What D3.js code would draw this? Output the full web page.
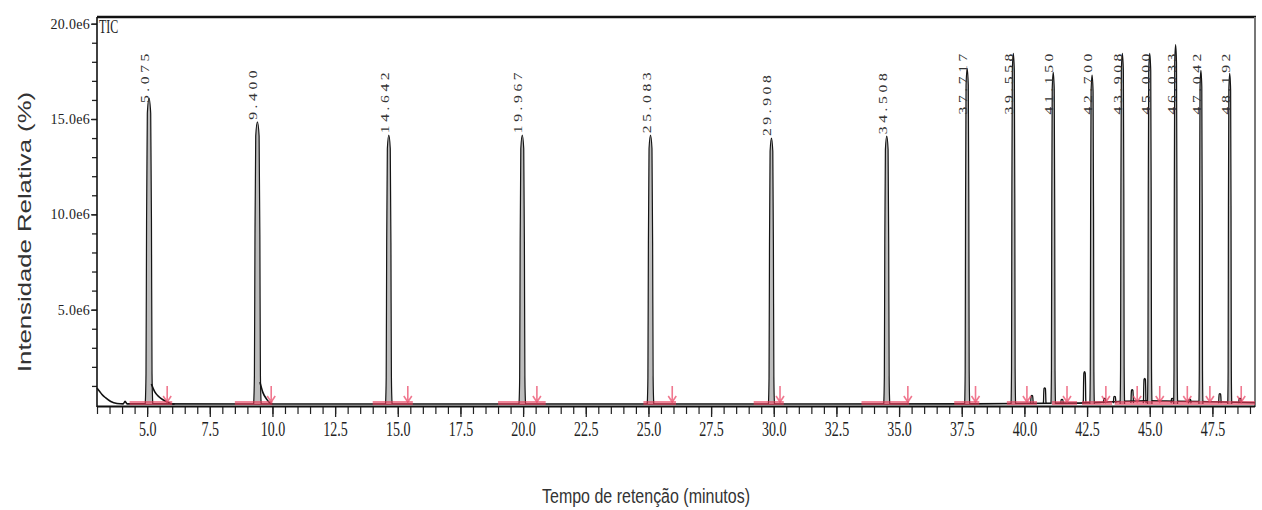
<!DOCTYPE html>
<html>
<head>
<meta charset="utf-8">
<script src="https://cdn.jsdelivr.net/npm/d3@7"></script>
<style>
  html, body { margin: 0; padding: 0; background: #fff; }
  svg { display: block; }
</style>
</head>
<body>
<svg id="chart" width="1262" height="510"></svg>
<script>
// Labelled peaks: retention time (min), label, apex intensity (x1e6) and half-width (min)
const peakTimes = [5.075, 9.400, 14.642, 19.967, 25.083, 29.908, 34.508, 37.717,
                   39.558, 41.150, 42.700, 43.908, 45.000, 46.033, 47.042, 48.192];
const peakLabels = ["5.075", "9.400", "14.642", "19.967", "25.083", "29.908", "34.508", "37.717",
                    "39.558", "41.150", "42.700", "43.908", "45.000", "46.033", "47.042", "48.192"];
const peakHeights = [16.1, 14.85, 14.15, 14.15, 14.15, 14.0, 14.1, 17.65,
                     18.45, 17.45, 17.3, 18.45, 18.45, 18.9, 17.55, 17.4];
const peakHalfWidths = [0.15, 0.15, 0.13, 0.13, 0.13, 0.12, 0.12, 0.1,
                        0.09, 0.09, 0.09, 0.09, 0.09, 0.08, 0.08, 0.08];

// Shape of one peak: offset in half-widths, fraction of apex height
const peakProfile = [[-1, 0], [-0.8, 0.1], [-0.65, 0.6], [-0.45, 0.95], [0, 1],
                     [0.45, 0.95], [0.65, 0.6], [0.8, 0.1], [1, 0]];

// Tailing after the first two peaks (min, x1e6)
const tailPeak1 = [[5.17, 1.1], [5.3, 0.7], [5.48, 0.42], [5.65, 0.26], [5.8, 0.16], [5.95, 0.07], [6.1, 0.05]];
const tailPeak2 = [[9.5, 1.2], [9.62, 0.65], [9.78, 0.28], [9.9, 0.1], [10.0, 0.05]];

// Baseline trace incl. solvent front (min, x1e6)
const baselineTrace = [[3.0, 0.89], [3.1, 0.72], [3.2, 0.55], [3.35, 0.37], [3.55, 0.18], [3.8, 0.08],
                       [4.05, 0.06], [4.12, 0.2], [4.2, 0.06], [10, 0.05], [20, 0.05], [30, 0.05],
                       [38, 0.06], [42, 0.1], [43, 0.14], [44, 0.2], [45, 0.22], [46, 0.2],
                       [47, 0.18], [48, 0.16], [49.2, 0.12]];

// Small unlabelled peaks (min, x1e6)
const minorTimes = [40.3, 40.81, 41.5, 42.4, 43.2, 43.6, 44.3, 44.8, 45.9, 46.6, 47.8, 48.6];
const minorHeights = [0.5, 0.9, 0.3, 1.75, 0.35, 0.45, 0.8, 1.4, 0.35, 0.3, 0.6, 0.35];

// Integration: baseline segments and end markers (min)
const integrationSegments = [[4.3, 6.0], [8.5, 10.0], [14.0, 15.6], [19.0, 20.9], [24.8, 26.1],
                             [29.2, 30.4], [33.5, 35.4], [37.2, 38.2], [39.3, 40.5], [41.1, 42.1],
                             [42.3, 43.5], [43.6, 49.2]];
const integrationEnds = [5.8, 9.95, 15.4, 20.55, 25.95, 30.25, 35.35, 38.05,
                         40.1, 41.7, 43.25, 44.5, 45.4, 46.5, 47.4, 48.65];

// Axis tick labels
const xTickLabels = ["5.0", "7.5", "10.0", "12.5", "15.0", "17.5", "20.0", "22.5", "25.0", "27.5",
                     "30.0", "32.5", "35.0", "37.5", "40.0", "42.5", "45.0", "47.5"];
const yTickLabels = ["5.0e6", "10.0e6", "15.0e6", "20.0e6"];

(function draw() {
  const svg = d3.select("#chart");
  const pl = 97, pr = 1255, pt = 17, pb = 405;

  const x = d3.scaleLinear().domain([3, 49.2]).range([pl, pr]);
  const y = d3.scaleLinear().domain([0, 20.35]).range([pb, pt]);

  const serif = "'Liberation Serif', 'Times New Roman', serif";
  const sans = "'Liberation Sans', Arial, sans-serif";

  // ---- axes ----
  const xMinor = d3.range(3, 49.01, 0.5);
  const xMajor = xTickLabels.map(Number);

  svg.append("g")
    .attr("transform", `translate(0,${pb + 1})`)
    .call(d3.axisBottom(x).tickValues(xMinor).tickSize(8).tickFormat(""))
    .call(g => g.select(".domain").remove())
    .call(g => g.selectAll("line").attr("stroke", "#222").attr("stroke-width", 1.2));

  svg.append("g")
    .attr("transform", `translate(0,${pb + 1})`)
    .call(d3.axisBottom(x).tickValues(xMajor).tickSize(11).tickFormat((d, i) => xTickLabels[i]))
    .call(g => g.select(".domain").remove())
    .call(g => g.selectAll("line").attr("stroke", "#222").attr("stroke-width", 1.3))
    .call(g => g.selectAll("text")
      .attr("y", 0).attr("dy", null)
      .attr("transform", "translate(0,30) scale(1,1.55)")
      .attr("font-family", serif).attr("font-size", 14).attr("fill", "#222"));

  const yMinor = d3.range(1, 20.5, 1);
  svg.append("g")
    .attr("transform", `translate(${pl},0)`)
    .call(d3.axisLeft(y).tickValues(yMinor).tickSize(5).tickFormat(""))
    .call(g => g.select(".domain").remove())
    .call(g => g.selectAll("line").attr("stroke", "#222").attr("stroke-width", 1.3));

  svg.append("g")
    .attr("transform", `translate(${pl},0)`)
    .call(d3.axisLeft(y).tickValues([5, 10, 15, 20]).tickSize(6).tickPadding(1)
      .tickFormat((d, i) => yTickLabels[i]))
    .call(g => g.select(".domain").remove())
    .call(g => g.selectAll("line").attr("stroke", "#222").attr("stroke-width", 1.3))
    .call(g => g.selectAll("text")
      .attr("font-family", serif).attr("font-size", 14).attr("fill", "#222")
      .attr("letter-spacing", 0.3));

  // frame
  svg.append("line").attr("x1", pl).attr("x2", pl).attr("y1", pt).attr("y2", pb + 2)
    .attr("stroke", "#111").attr("stroke-width", 1.6);
  svg.append("line").attr("x1", pl).attr("x2", pr + 1).attr("y1", pt).attr("y2", pt)
    .attr("stroke", "#111").attr("stroke-width", 2.6);
  svg.append("line").attr("x1", pr).attr("x2", pr).attr("y1", pt).attr("y2", pb + 2)
    .attr("stroke", "#777").attr("stroke-width", 2);
  svg.append("line").attr("x1", pl).attr("x2", pr).attr("y1", pb + 1.5).attr("y2", pb + 1.5)
    .attr("stroke", "#111").attr("stroke-width", 2);

  // ---- chromatogram ----
  const line = d3.line().x(d => x(d[0])).y(d => y(d[1])).curve(d3.curveMonotoneX);
  const baseLevel = 0.05;

  svg.append("path").datum(baselineTrace).attr("d", line)
    .attr("fill", "none").attr("stroke", "#111").attr("stroke-width", 1.6);

  // unlabelled small peaks
  minorTimes.forEach((t, i) => {
    const pts = peakProfile.map(([f, a]) => [t + f * 0.06, 0.1 + a * (minorHeights[i] - 0.1)]);
    svg.append("path").datum(pts).attr("d", line)
      .attr("fill", "none").attr("stroke", "#111").attr("stroke-width", 1.3);
  });

  const area = d3.area().x(d => x(d[0])).y0(y(baseLevel)).y1(d => y(d[1])).curve(d3.curveMonotoneX);

  peakTimes.forEach((t, i) => {
    const pts = peakProfile.map(([f, a]) => [t + f * peakHalfWidths[i], baseLevel + a * (peakHeights[i] - baseLevel)]);
    svg.append("path").datum(pts).attr("d", area).attr("fill", "#bdbdbd");
    svg.append("path").datum(pts).attr("d", line)
      .attr("fill", "none").attr("stroke", "#151515").attr("stroke-width", 1.2);
  });

  [tailPeak1, tailPeak2].forEach(tail => {
    svg.append("path").datum(tail).attr("d", line)
      .attr("fill", "none").attr("stroke", "#111").attr("stroke-width", 1.6);
  });

  // ---- integration marks ----
  svg.append("g").selectAll("rect").data(integrationSegments).join("rect")
    .attr("x", d => x(d[0])).attr("width", d => x(d[1]) - x(d[0]))
    .attr("y", pb - 4).attr("height", 4)
    .attr("fill", "rgba(232,60,90,0.62)");

  svg.append("g").selectAll("path").data(integrationEnds).join("path")
    .attr("d", d => {
      const px = x(d), b = pb - 3;
      return `M${px},${b - 16}L${px},${b}M${px - 4},${b - 6}L${px},${b}L${px + 4},${b - 6}`;
    })
    .attr("fill", "none").attr("stroke", "rgba(235,75,105,0.75)").attr("stroke-width", 1.6);

  // ---- peak labels ----
  const labelStretch = 1.2;
  peakTimes.forEach((t, i) => {
    const px = x(t), apexY = y(peakHeights[i]);
    const txt = svg.append("text")
      .attr("font-family", serif).attr("font-size", 13).attr("letter-spacing", 3)
      .attr("fill", "#333").text(peakLabels[i]);
    const len = txt.node().getComputedTextLength() * labelStretch;
    const startY = Math.max(apexY - 2, 50 + len);
    txt.attr("transform", `translate(${px},${startY}) scale(1,${labelStretch}) rotate(-90)`);
  });

  // ---- titles ----
  svg.append("text").attr("transform", "translate(99,33) scale(1,1.5)")
    .attr("font-family", serif).attr("font-size", 12).attr("fill", "#222").text("TIC");

  svg.append("text")
    .attr("transform", "translate(31,232) scale(1,1.43) rotate(-90)")
    .attr("text-anchor", "middle")
    .attr("font-family", sans).attr("font-size", 18).attr("fill", "#333")
    .text("Intensidade Relativa (%)");

  svg.append("text")
    .attr("transform", "translate(646,503) scale(1,1.3)")
    .attr("text-anchor", "middle")
    .attr("font-family", sans).attr("font-size", 16).attr("fill", "#333")
    .text("Tempo de retenção (minutos)");
})();
</script>
</body>
</html>
